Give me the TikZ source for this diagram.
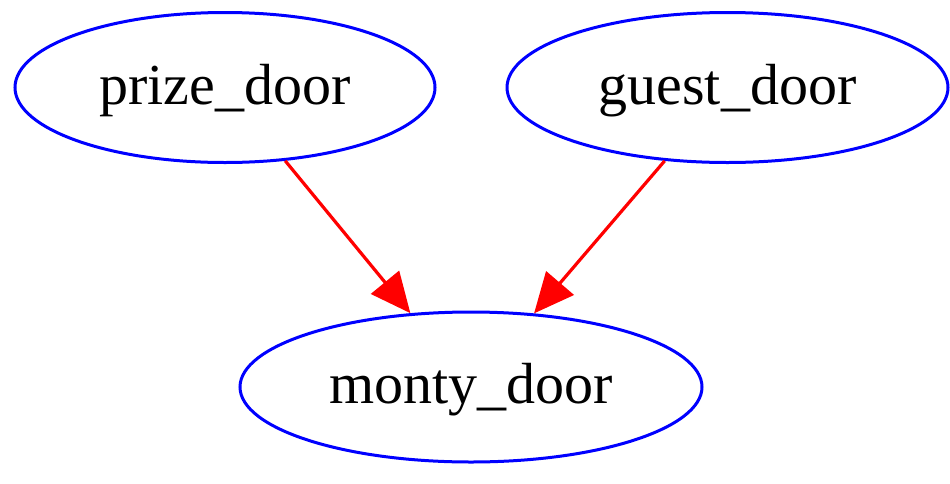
\documentclass[tikz,border=0pt]{standalone}
\usepackage{fontspec}
\setmainfont{Liberation Serif}
\usetikzlibrary{shapes.geometric,arrows.meta,positioning}

\begin{document}
\begin{tikzpicture}
		[x=1pt, y=-1pt,
		door/.style={ellipse,draw=blue,line width=3pt,inner sep=0pt,minimum height=150pt,
			text depth=7pt,font=\fontsize{58}{70}\selectfont},
		link/.style={draw=red,line width=3.2pt,{Triangle[length=40pt,width=36pt]}-}]
	\useasboundingbox (0,0) rectangle (950,483);

		\node[door,minimum width=420pt] (prize) at (225,87.5) {prize\_door};
		\node[door,minimum width=441pt] (guest) at (727.5,87.5) {guest\_door};
		\node[door,minimum width=462pt] (monty) at (471,387) {monty\_door}
			edge[link] (prize)
			edge[link] (guest);
	\end{tikzpicture}
\end{document}
